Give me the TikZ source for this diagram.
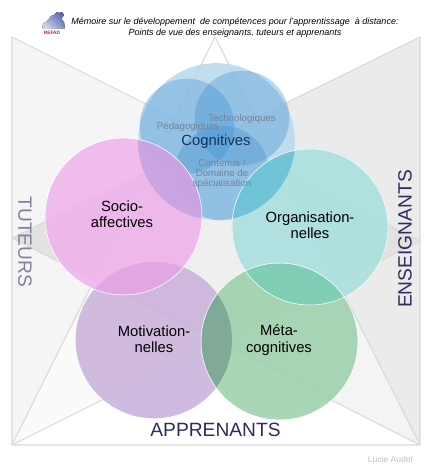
\documentclass[tikz,border=0pt]{standalone}
\usepackage{fontspec}
\setmainfont{Liberation Sans}
\usetikzlibrary{positioning, calc}
\definecolor{cogbase}{HTML}{B9D8EE}
\definecolor{cogpart}{HTML}{3D8FD0}
\definecolor{cogtext}{HTML}{16325C}
\definecolor{subtext}{HTML}{6F859C}
\definecolor{sociofill}{HTML}{F0B0EC}
\definecolor{motivfill}{HTML}{C9B0DB}
\definecolor{metafill}{HTML}{9AD0A9}
\definecolor{orgafill}{HTML}{A6E0DE}
\definecolor{sociocog}{HTML}{C4A0E0}
\definecolor{orgacog}{HTML}{62BED4}
\definecolor{sociomotiv}{HTML}{E2A6E2}
\definecolor{motivmeta}{HTML}{7EA696}
\definecolor{metaorga}{HTML}{7CCDB2}
\definecolor{sidetext}{HTML}{2F2B5C}
\definecolor{logolight}{HTML}{CFD3EA}
\definecolor{logodark}{HTML}{5A68B0}
\definecolor{logored}{HTML}{AA2832}
\begin{document}
\begin{tikzpicture}[
  x=0.75pt, y=-0.75pt,
  every node/.style={font=\fontsize{11.1pt}{12.3pt}\selectfont},
  side/.style={draw=black!15, line width=0.8pt, line join=round},
  bubble/.style={circle, fill=#1, fill opacity=0.85, text opacity=1,
    minimum size=117.5pt, inner sep=0pt, align=center},
  part/.style={circle, fill=cogpart, fill opacity=0.35, minimum size=71pt, inner sep=0pt},
  rim/.style={white, line width=0.4pt},
  sublabel/.style={font=\fontsize{7.3pt}{7.6pt}\selectfont, text=subtext, align=center},
  sidelabel/.style={font=\fontsize{14.4pt}{16pt}\selectfont, text=sidetext},
  titleline/.style={font=\fontsize{6.76pt}{8.25pt}\itshape\selectfont, align=center}
]
\useasboundingbox (0,0) rectangle (430,467);

% ---- FRAME OF THREE TRIANGLES ----
\coordinate (tl) at (12,37);
\coordinate (tr) at (420,37);
\coordinate (bl) at (12,445);
\coordinate (br) at (420,445);
\coordinate (apexL) at (12,238);
\coordinate (apexR) at (420,241);
\coordinate (apexT) at (215,37);
\fill[black, opacity=0.04] (tl) -- (apexR) -- (bl) -- cycle;
\fill[black, opacity=0.08] (tr) -- (apexL) -- (br) -- cycle;
\fill[white, opacity=0.45] (apexT) -- (bl) -- (br) -- cycle;
\draw[side] (tl) -- (apexR) -- (bl) -- cycle;
\draw[side] (tr) -- (apexL) -- (br) -- cycle;
\draw[side] (apexT) -- (bl) -- (br) -- cycle;

% ---- COGNITIVES ----
\node[bubble=cogbase] (cog) at (216.5,141.5) {};
\node[part] (peda) at (187,126) {};
\node[part] (techno) at (242,118) {};
\node[part] (contenu) at (222,173) {};

% ---- OTHER BUBBLES ----
\node[bubble=motivfill] (motiv) at (154,340) {};
\node[bubble=sociofill] (socio) at (123.5,216.5) {};
\node[bubble=metafill] (meta) at (279.5,341.5) {};
\node[bubble=orgafill] (orga) at (310,227) {};

% ---- OVERLAPS ----
\begin{scope}
  \clip (cog) circle (78.5);
  \fill[sociocog, opacity=0.8] (socio) circle (78);
  \fill[orgacog, opacity=0.8] (orga) circle (78);
\end{scope}
\begin{scope}
  \clip (motiv) circle (78);
  \fill[sociomotiv, opacity=0.9] (socio) circle (78);
  \fill[motivmeta, opacity=0.9] (meta) circle (78);
\end{scope}
\begin{scope}
  \clip (meta) circle (78);
  \fill[metaorga, opacity=0.9] (orga) circle (78);
\end{scope}
\draw[rim] (socio) circle (78.5);
\draw[rim] (meta) circle (78.5);
\draw[rim] (orga) circle (78);

% ---- LABELS ----
\node[text=cogtext] (cogtxt) at (216,142) {Cognitives};
\node[sublabel] (pedatxt) at (188,127) {Pédagogiques};
\node[sublabel] (technotxt) at (242,119) {Technologiques};
\node[sublabel] (contenutxt) at (222,174) {Contenus /\\Domaine de\\spécialisation};
\node[align=center] (sociotxt) at (122,214) {Socio-\\affectives};
\node[align=center] (orgatxt) at (310,225) {Organisation-\\nelles};
\node[align=center] (motivtxt) at (154,339) {Motivation-\\nelles};
\node[align=center] (metatxt) at (279,340) {Méta-\\cognitives};
\node[sidelabel, rotate=-90, text=sidetext!60] (tuteurs) at (25,242) {TUTEURS};
\node[sidelabel, rotate=90] (enseignants) at (405,239) {ENSEIGNANTS};
\node[sidelabel] (apprenants) at (215.5,430) {APPRENANTS};

% ---- TITLE AND LOGO ----
\fill[top color=logodark, bottom color=logolight, shading angle=-45]
  (42,29) -- (43,24) -- (48,20) -- (51,16) -- (54,15) -- (57,12) -- (59,13) -- (62,12)
  -- (64,15) -- (61,19) -- (64,22) -- (65,29) -- cycle;
\node[font=\fontsize{3.6pt}{4pt}\bfseries\selectfont, text=logored] (refad) at (52,33) {REFAD};
\node[titleline] (title) at (235,27.5) {Mémoire sur le développement\ \ de compétences pour l'apprentissage\ \ à distance:\\Points de vue des enseignants, tuteurs et apprenants};
\node[font=\fontsize{6.4pt}{7pt}\selectfont, text=black!25] (author) at (390.5,459) {Lucie Audet};
\end{tikzpicture}
\end{document}
